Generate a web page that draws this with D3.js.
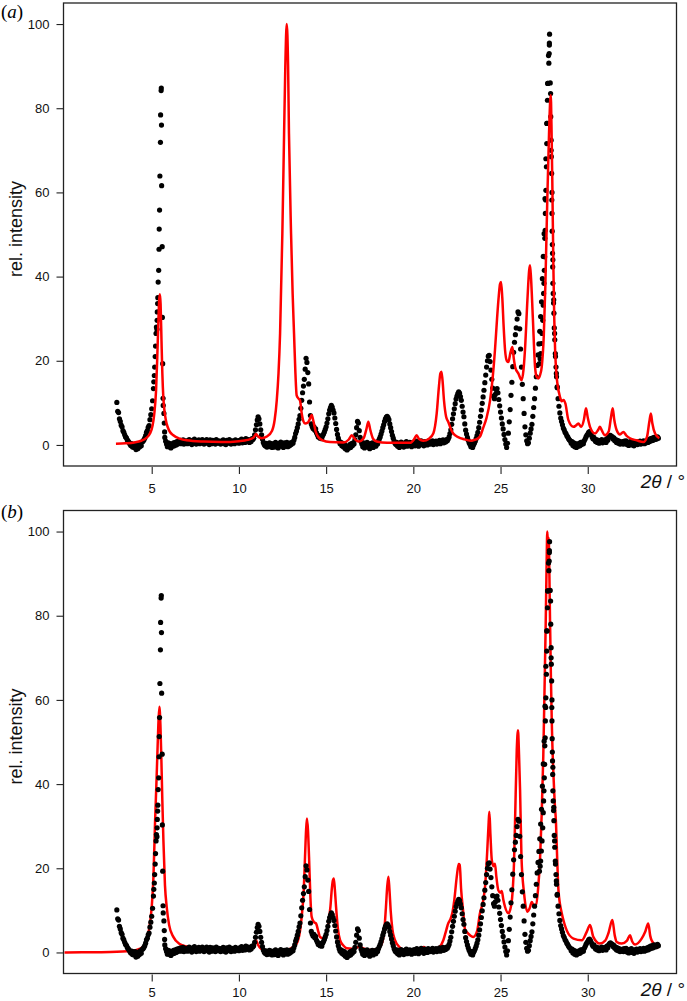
<!DOCTYPE html>
<html lang="en">

<head>
  <meta charset="UTF-8">
  <script src="https://cdn.jsdelivr.net/npm/d3@7"></script>
  <title>Powder patterns</title>
  <style>
    body { margin: 0; background: #fff; }
  </style>
</head>

<body>
  <script>
  // measured pattern: intensity every 0.05 deg 2theta, from 3.00 deg
  const expStart = 3.0;
  const expStep = 0.05;
  const expIntensity = [
    10.1, 8.0, 7.7, 6.2, 5.6, 4.7, 4.3, 3.4, 3.0, 2.4, 1.9, 1.7, 1.2, 0.9, 0.6, 0.2, -0.1, 0.3, -0.5, 0.1,
    -0.6, 0.2, -1.1, -0.3, -0.9, 0.1, -0.5, 0.4, -0.2, 0.7, 0.9, 1.2, 1.6, 2.2, 3.0, 3.4, 4.2, 4.6, 6.0, 7.2,
    8.6, 10.5, 13.4, 16.5, 21.0, 26.5, 27.5, 35.0, 41.5, 55.8, 71.9, 84.8, 47.1, 11.1, 7.5, 1.8, 0.9, 0.2, -0.4, 0.5,
    -0.4, 0.3, -0.7, 0.1, -0.3, 0.5, -0.2, 0.6, 0.0, 0.8, 0.2, 0.9, 0.4, 1.1, 0.3, 0.7, 1.2, 0.2, 0.9, 0.5,
    1.0, 0.3, 0.8, 1.3, 0.4, 0.9, 0.1, 1.1, 0.6, 1.4, 0.5, 0.2, 1.0, 0.7, 1.2, 0.3, 0.9, 0.5, 1.3, 0.6,
    0.2, 1.0, 0.7, 1.3, 0.4, 0.8, 0.1, 1.2, 0.6, 0.3, 1.1, 0.5, 0.9, 0.2, 1.3, 0.7, 0.4, 1.0, 0.6, 0.2,
    0.9, 0.5, 1.2, 0.3, 0.8, 0.1, 1.1, 0.6, 0.4, 1.3, 0.7, 0.2, 1.0, 0.5, 0.9, 0.3, 1.2, 0.6, 0.8, 1.0,
    0.4, 1.1, 0.7, 1.4, 0.5, 0.9, 1.2, 0.6, 1.5, 0.8, 1.0, 1.3, 0.6, 1.1, 0.8, 1.5, 1.3, 1.6, 2.4, 3.6,
    4.8, 5.9, 6.7, 6.2, 5.0, 3.6, 2.4, 1.4, 0.6, 0.1, -0.2, 0.4, -0.5, 0.2, -0.4, 0.5, -0.1, 0.3, -0.6, 0.1,
    0.3, -0.5, 0.6, -0.2, 0.1, -0.7, 0.4, -0.3, 0.7, -0.1, 0.2, -0.6, 0.5, -0.3, 0.0, 0.6, -0.4, 0.3, -0.2, 0.5,
    0.1, 0.6, 0.4, 1.1, 1.8, 2.7, 3.3, 4.1, 5.0, 6.1, 7.0, 8.7, 10.6, 12.4, 14.0, 15.6, 18.0, 20.6, 19.6, 17.2,
    14.5, 10.2, 7.0, 5.0, 4.4, 3.9, 4.3, 3.5, 3.8, 2.9, 2.4, 1.9, 2.2, 1.6, 2.0, 1.5, 2.2, 2.6, 3.1, 3.7,
    4.3, 5.2, 6.2, 7.4, 8.3, 8.9, 9.4, 9.0, 8.3, 7.6, 6.4, 5.1, 3.7, 2.5, 1.6, 0.9, 0.3, 0.6, -0.2, 0.4,
    -0.5, 0.2, -0.9, -0.3, -1.2, -0.4, -0.8, 0.1, -0.6, 0.3, -0.2, 0.5, 0.2, 1.2, 2.4, 4.1, 5.6, 5.2, 3.4, 1.8,
    0.8, 0.2, -0.4, 0.5, -0.7, 0.1, -0.3, 0.6, -0.5, 0.2, -0.9, 0.3, -0.2, 0.5, -0.6, 0.1, 0.4, -0.3, 0.6, 0.2,
    0.9, 1.4, 1.9, 2.6, 3.3, 4.1, 4.8, 5.6, 6.2, 6.6, 6.8, 6.5, 6.0, 5.0, 4.1, 3.2, 2.3, 1.6, 0.9, 0.4,
    0.1, 0.6, -0.3, 0.4, -0.6, 0.2, 0.7, -0.2, 0.3, -0.5, 0.5, 0.0, 0.8, -0.3, 0.4, -0.1, 0.6, 0.2, -0.4, 0.5,
    0.1, 0.7, -0.2, 0.4, 0.9, 0.2, -0.3, 0.6, 0.3, 1.0, 0.1, 0.5, -0.2, 0.8, 0.3, 0.6, 0.0, 0.9, 0.4, 0.2,
    0.7, 0.3, 1.0, 0.1, 0.6, 0.4, 0.9, 0.2, 0.7, 0.5, 1.1, 0.3, 0.8, 0.6, 1.2, 0.5, 0.9, 0.7, 1.3, 1.0,
    1.4, 1.9, 2.7, 3.6, 4.9, 6.2, 7.4, 8.6, 9.8, 10.9, 11.6, 12.2, 12.6, 12.3, 11.5, 10.6, 9.2, 7.8, 6.7, 5.0,
    3.5, 2.6, 1.8, 1.1, 0.5, 0.1, -0.4, 0.2, -0.6, 0.0, 0.4, 0.9, 1.5, 2.2, 3.0, 4.1, 5.4, 6.8, 8.3, 9.9,
    11.4, 13.0, 14.8, 16.6, 18.5, 20.0, 21.1, 21.3, 19.8, 17.8, 15.6, 13.5, 11.6, 11.0, 12.0, 13.1, 13.4, 12.4, 10.8, 9.3,
    7.8, 6.4, 5.0, 3.8, 2.5, 1.3, 0.2, -0.6, 0.4, 2.8, 5.5, 8.4, 11.8, 14.9, 18.6, 22.0, 24.4, 26.2, 27.8, 29.9,
    31.6, 31.2, 27.6, 22.8, 18.5, 14.4, 11.0, 7.5, 4.3, 2.4, 1.0, 0.3, 0.5, 1.6, 2.8, 3.8, 4.9, 6.8, 8.9, 11.0,
    13.5, 16.2, 18.9, 21.4, 24.0, 27.0, 30.5, 34.0, 39.5, 44.8, 50.2, 58.5, 68.0, 76.4, 85.9, 92.5, 95.5, 86.0, 70.0, 60.0,
    44.0, 34.5, 26.5, 21.0, 17.0, 13.6, 11.0, 9.2, 7.6, 6.4, 5.6, 4.8, 4.0, 3.6, 3.0, 2.7, 2.2, 1.9, 1.5, 1.2,
    1.0, 0.4, 0.8, -0.1, 0.5, -0.4, 0.3, -0.6, 0.1, -0.3, 0.4, -0.2, 0.6, 0.1, 0.7, 0.3, 1.0, 1.4, 1.9, 2.3,
    2.6, 3.0, 3.2, 2.9, 2.4, 1.9, 1.5, 1.8, 1.2, 0.8, 1.3, 0.6, 1.1, 0.4, 1.0, 0.7, 1.3, 0.5, 1.1, 0.8,
    1.2, 0.6, 1.5, 1.1, 1.8, 2.1, 2.3, 1.9, 2.0, 1.4, 1.7, 1.0, 1.3, 0.6, 1.1, 0.4, 0.9, 0.2, 0.7, 0.3,
    0.8, 0.2, 0.9, 0.4, 1.0, 0.1, 0.6, -0.1, 0.7, 0.3, 0.9, 0.0, 0.5, -0.2, 0.6, 0.2, 0.8, 0.1, 0.6, 0.3,
    0.9, 0.2, 0.7, 0.4, 1.0, 0.3, 0.8, 0.5, 1.1, 0.6, 1.3, 0.8, 1.5, 1.0, 1.6, 1.1, 1.8, 1.3, 1.7, 1.4,
    1.9, 1.6
  ];

  // extra measured points on the two sharp peaks [2theta, intensity]
  const expPeakExtra = [
    [5.12, 15.0], [5.17, 18.5], [5.22, 23.5], [5.27, 28.0], [5.31, 29.6], [5.32, 31.6], [5.34, 33.6],
    [5.37, 38.7], [5.42, 46.5], [5.43, 51.3], [5.47, 63.9], [5.51, 78.4], [5.54, 84.2], [5.56, 76.0],
    [5.57, 61.6], [5.61, 30.3], [5.63, 19.3], [5.66, 9.4], [5.72, 5.2], [5.74, 3.1],
    [27.23, 19.3], [27.27, 20.5], [27.30, 21.7], [27.34, 24.1], [27.38, 26.5], [27.42, 29.6], [27.45, 33.2],
    [27.47, 36.0], [27.49, 38.4], [27.51, 41.5], [27.53, 44.7], [27.54, 49.1], [27.56, 51.0], [27.57, 55.0],
    [27.59, 58.2], [27.60, 60.5], [27.63, 66.1], [27.65, 71.6], [27.67, 76.4], [27.69, 81.9], [27.72, 85.9],
    [27.77, 90.7], [27.79, 93.0], [27.80, 95.0], [27.81, 97.6],
    [27.87, 83.5], [27.88, 78.0], [27.90, 72.4], [27.91, 68.5], [27.93, 64.5], [27.94, 58.2], [27.95, 55.0],
    [27.96, 50.8], [27.97, 47.6], [27.98, 45.5], [27.99, 42.3], [28.00, 38.4], [28.02, 36.0], [28.04, 33.7],
    [28.06, 31.3], [28.08, 27.8], [28.11, 25.0], [28.14, 21.7], [28.18, 18.5], [28.21, 16.2], [28.25, 13.8]
  ];

  // calculated pattern, panel (a)
  const calcA = [
    [2.95, 0.3], [3.5, 0.4], [4.0, 0.6], [4.4, 1.0], [4.7, 1.7], [4.9, 2.7], [5.05, 4.6], [5.15, 7.5],
    [5.25, 13], [5.32, 21], [5.38, 29], [5.43, 34.5], [5.47, 35.8], [5.51, 33.5], [5.56, 25], [5.61, 17],
    [5.67, 11], [5.76, 7.2], [5.86, 5.0], [6.0, 3.4], [6.24, 2.3], [6.6, 1.5], [7.0, 1.1], [8.0, 0.8],
    [9.0, 0.7], [10.0, 0.9], [10.5, 1.2], [10.85, 1.8], [10.98, 2.6], [11.1, 2.0], [11.3, 1.6], [11.6, 2.0],
    [11.9, 3.4], [12.05, 6], [12.17, 10.6], [12.27, 17], [12.36, 26.5], [12.49, 50.2], [12.59, 74],
    [12.66, 89.9], [12.74, 100], [12.82, 89.9], [12.87, 74], [12.99, 50.2], [13.08, 36], [13.16, 26.5],
    [13.24, 17], [13.31, 11.8], [13.42, 11], [13.5, 10.6], [13.6, 7.5], [13.7, 5.6], [13.79, 5.1],
    [13.95, 5.3], [14.07, 6.2], [14.17, 7.1], [14.28, 5.5], [14.4, 3.2], [14.55, 1.9], [14.8, 1.1],
    [15.22, 0.7], [15.99, 0.6], [16.3, 1.3], [16.47, 2.3], [16.65, 1.4], [16.85, 0.8], [17.15, 1.6],
    [17.3, 3.6], [17.42, 5.5], [17.53, 3.6], [17.7, 1.4], [17.9, 0.8], [18.5, 0.5], [19.81, 0.5],
    [20.05, 1.4], [20.19, 2.3], [20.33, 1.4], [20.57, 1.0], [20.9, 1.5], [21.15, 2.8], [21.34, 7.5],
    [21.47, 14], [21.55, 17], [21.61, 17.4], [21.67, 15.5], [21.76, 10.5], [21.88, 6.7], [22.0, 5.5],
    [22.15, 3.8], [22.29, 2.7], [22.6, 1.8], [22.87, 1.4], [23.3, 1.0], [23.6, 1.3], [23.82, 2.0],
    [24.0, 4.0], [24.2, 6.5], [24.4, 10.6], [24.55, 16], [24.68, 22.5], [24.8, 30], [24.9, 35.5],
    [24.97, 38.2], [25.03, 38.7], [25.1, 35], [25.18, 28], [25.26, 22.5], [25.36, 20], [25.45, 19.7],
    [25.57, 22], [25.68, 23.3], [25.76, 20.5], [25.85, 18.3], [26.02, 17], [26.21, 15.4], [26.32, 18],
    [26.4, 22.5], [26.54, 34.4], [26.64, 41.5], [26.69, 42.7], [26.75, 39.5], [26.85, 30.4], [26.98, 18.5],
    [27.07, 16.2], [27.17, 15.8], [27.28, 16.8], [27.36, 18.5], [27.48, 26], [27.57, 38], [27.68, 58.2],
    [27.78, 74], [27.85, 82], [27.88, 83.1], [27.92, 76], [27.97, 62], [28.03, 42.3], [28.08, 30],
    [28.13, 22.5], [28.2, 17], [28.26, 14.6], [28.41, 11.4], [28.5, 10.4], [28.62, 10.7], [28.72, 9.8],
    [28.89, 5.9], [29.18, 4.3], [29.32, 4.6], [29.46, 5.1], [29.62, 4.3], [29.78, 6.0], [29.9, 8.7],
    [30.0, 6.5], [30.13, 4.3], [30.42, 2.7], [30.6, 3.6], [30.7, 4.3], [30.8, 3.5], [30.99, 2.3],
    [31.2, 3.2], [31.33, 6.5], [31.43, 8.7], [31.52, 6.0], [31.66, 3.5], [31.85, 2.5], [32.04, 3.1],
    [32.2, 2.3], [32.42, 1.6], [32.81, 1.1], [33.19, 0.7], [33.4, 2.0], [33.53, 5.5], [33.62, 7.5],
    [33.7, 5.2], [33.86, 2.7], [34.1, 1.6]
  ];

  // calculated pattern, panel (b)
  const calcB = [
    [0, 0], [1, 0.02], [2, 0.05], [3, 0.15], [3.57, 0.3], [4.0, 0.5], [4.33, 0.9], [4.55, 1.6],
    [4.71, 2.9], [4.85, 5.5], [5.0, 10.8], [5.1, 18], [5.19, 30.7], [5.26, 39], [5.32, 46.5], [5.38, 54],
    [5.44, 58.4], [5.5, 54], [5.55, 46.5], [5.61, 36], [5.67, 26.7], [5.76, 16], [5.86, 10.8], [6.0, 6.5],
    [6.24, 3.7], [6.6, 2.0], [7.0, 1.4], [7.77, 1.0], [8.5, 0.6], [9.68, 0.4], [10.4, 0.5], [10.8, 1.3],
    [10.98, 2.9], [11.1, 1.8], [11.4, 0.6], [12.0, 0.3], [12.6, 0.5], [13.0, 1.0], [13.31, 2.1], [13.5, 5],
    [13.6, 8.5], [13.72, 15], [13.79, 22.7], [13.85, 29], [13.9, 31.8], [13.96, 29], [14.02, 22.7],
    [14.1, 13], [14.17, 8.5], [14.3, 7.2], [14.42, 6.9], [14.55, 5], [14.65, 3.7], [14.84, 3.4], [15.0, 4.5],
    [15.13, 6.9], [15.25, 11], [15.32, 14.8], [15.38, 17], [15.44, 17.6], [15.5, 15], [15.57, 10.8],
    [15.68, 5.5], [15.8, 2.9], [16.0, 1.6], [16.18, 1.0], [16.5, 0.9], [16.75, 1.1], [16.92, 1.5],
    [17.1, 1.0], [17.52, 0.6], [17.9, 0.8], [18.19, 2.1], [18.35, 6], [18.43, 10.8], [18.5, 15.5],
    [18.57, 18], [18.63, 15], [18.7, 10], [18.8, 5.5], [18.95, 2.9], [19.2, 1.3], [19.43, 0.7], [20.0, 0.6],
    [20.45, 0.9], [20.6, 1.3], [20.75, 0.9], [21.15, 0.7], [21.5, 1.3], [21.72, 2.9], [21.9, 5.5],
    [22.0, 6.9], [22.14, 8.0], [22.24, 9.5], [22.35, 12.5], [22.49, 18], [22.6, 21], [22.66, 20.8],
    [22.74, 15], [22.87, 9.3], [22.96, 5.5], [23.15, 4.5], [23.44, 3.7], [23.65, 5], [23.82, 9.3],
    [24.01, 12.4], [24.12, 16], [24.24, 24.3], [24.32, 31], [24.36, 33.4], [24.42, 28], [24.5, 21.9],
    [24.6, 20.5], [24.68, 21.1], [24.76, 18], [24.87, 14.8], [24.98, 14.2], [25.07, 14.6], [25.16, 12.5],
    [25.26, 10.8], [25.45, 9.3], [25.6, 11], [25.7, 14.8], [25.77, 21], [25.83, 30.7], [25.93, 48.1],
    [26.0, 52.8], [26.06, 47], [26.12, 38.6], [26.2, 22.7], [26.35, 14], [26.54, 9.7], [26.68, 10.6],
    [26.79, 12], [26.9, 11.2], [27.04, 11.4], [27.15, 15], [27.27, 22.7], [27.36, 33], [27.45, 46.5],
    [27.52, 62], [27.59, 78.2], [27.64, 92], [27.68, 100], [27.72, 97], [27.76, 98.5], [27.8, 90],
    [27.84, 78.2], [27.89, 65], [27.94, 54.4], [28.03, 42.5], [28.1, 36], [28.18, 30.7], [28.25, 22],
    [28.32, 14.8], [28.51, 9.3], [28.65, 7], [28.79, 5.3], [29.18, 3.3], [29.66, 2.9], [29.94, 4.9],
    [30.13, 6.5], [30.32, 3.7], [30.7, 2.1], [31.0, 2.8], [31.18, 4.5], [31.41, 7.7], [31.55, 4.0],
    [31.66, 2.5], [31.95, 2.1], [32.25, 2.8], [32.42, 4.1], [32.55, 2.6], [32.71, 1.9], [33.09, 3.3],
    [33.3, 5.0], [33.47, 6.9], [33.58, 4.0], [33.66, 2.9], [34.05, 1.0]
  ];

  const xTicks = [5, 10, 15, 20, 25, 30];
  const yTicks = [0, 20, 40, 60, 80, 100];

  const w = 687;
  const h = 1001;
  const sans = "'Liberation Sans', Arial, sans-serif";
  const serif = "'Liberation Serif', 'Times New Roman', serif";

  const svg = d3.select("body")
    .append("svg")
    .attr("width", w)
    .attr("height", h);

  const x = d3.scaleLinear().domain([0, 35.1]).range([64.5, 676.7]);

  const expPoints = expIntensity
    .map(function (v, i) { return [expStart + i * expStep, v]; })
    .concat(expPeakExtra);

  function drawPanel(top, calc, letter, letterY, dotsOnTop, labelPad) {
    const y = d3.scaleLinear().domain([-5, 105]).range([top + 463, top]);
    const g = svg.append("g");

    // frame
    g.append("rect")
      .attr("x", 63.5).attr("y", top)
      .attr("width", 613).attr("height", 463)
      .attr("fill", "none")
      .attr("stroke", "#222")
      .attr("stroke-width", 1.3);

    // axes
    const xa = g.append("g")
      .attr("transform", "translate(0," + (top + 464) + ")")
      .call(d3.axisBottom(x).tickValues(xTicks).tickSize(7).tickPadding(labelPad).tickSizeOuter(0));
    const ya = g.append("g")
      .attr("transform", "translate(63.5,0)")
      .call(d3.axisLeft(y).tickValues(yTicks).tickSize(7).tickPadding(7).tickSizeOuter(0));
    [xa, ya].forEach(function (a) {
      a.select(".domain").remove();
      a.attr("font-family", sans).attr("font-size", 13);
      a.selectAll("line").attr("stroke", "#222").attr("stroke-width", 1.1);
      a.selectAll("text").attr("fill", "#111");
    });

    const line = d3.line()
      .x(function (d) { return x(d[0]); })
      .y(function (d) { return y(d[1]); })
      .curve(d3.curveMonotoneX);

    function dots() {
      g.append("g").selectAll("circle")
        .data(expPoints)
        .join("circle")
        .attr("cx", function (d) { return x(d[0]); })
        .attr("cy", function (d) { return y(d[1]); })
        .attr("r", 2.6)
        .attr("fill", "#000");
    }
    function calcLine() {
      g.append("path")
        .datum(calc)
        .attr("d", line)
        .attr("fill", "none")
        .attr("stroke", "#ff0000")
        .attr("stroke-width", 2.5)
        .attr("stroke-linejoin", "round");
    }
    if (dotsOnTop) { calcLine(); dots(); } else { dots(); calcLine(); }

    // texts
    const lab = g.append("text")
      .attr("x", 1).attr("y", letterY)
      .attr("font-family", serif).attr("font-size", 19);
    lab.append("tspan").text("(");
    lab.append("tspan").attr("font-style", "italic").text(letter);
    lab.append("tspan").text(")");

    g.append("text")
      .attr("transform", "translate(21.5," + (top + 226) + ") rotate(-90)")
      .attr("text-anchor", "middle")
      .attr("font-family", sans).attr("font-size", 18)
      .attr("fill", "#111")
      .text("rel. intensity");

    const xt = g.append("text")
      .attr("x", 685).attr("y", top + 485)
      .attr("text-anchor", "end")
      .attr("font-family", sans).attr("font-size", 19)
      .attr("fill", "#111");
    xt.append("tspan").attr("font-style", "italic").text("2θ");
    xt.append("tspan").text(" / °");
  }

  drawPanel(3, calcA, "a", 18, false, 10);
  drawPanel(510.5, calcB, "b", 518, true, 6);
  </script>
</body>
</html>
